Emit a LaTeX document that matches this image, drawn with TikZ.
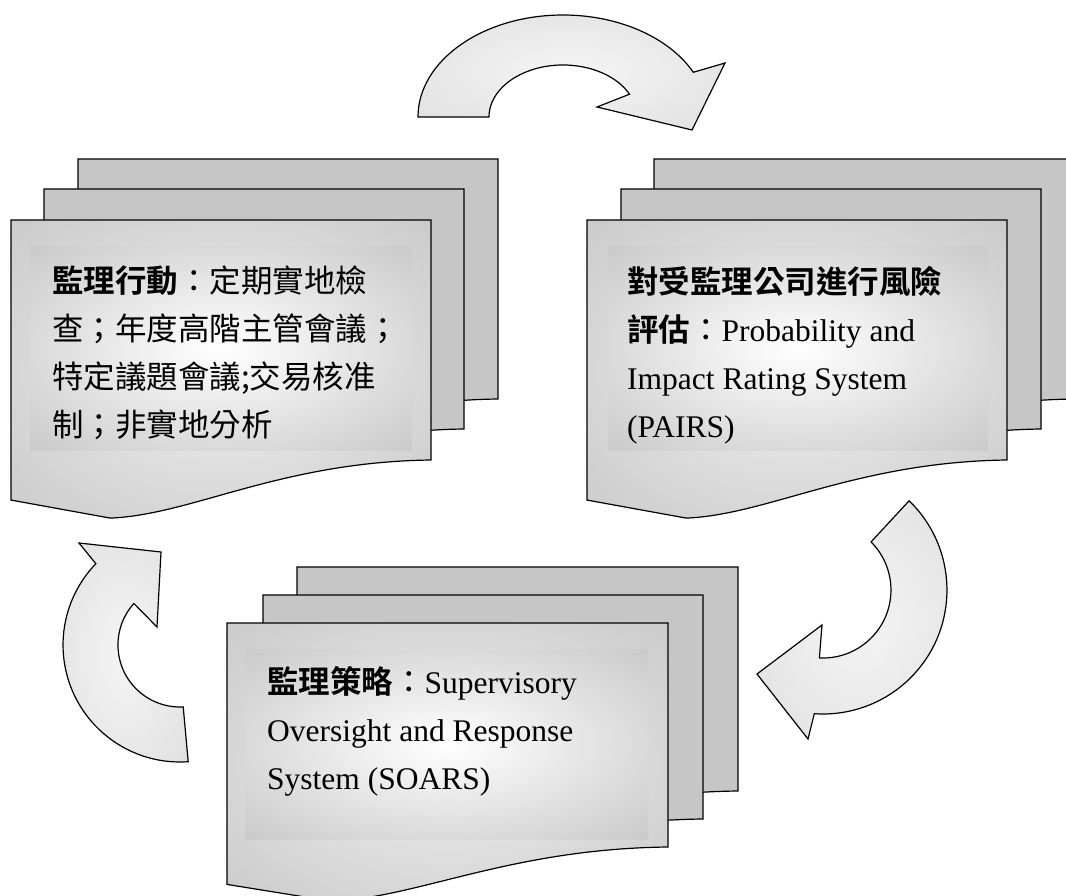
\documentclass[tikz,border=0pt]{standalone}
\usepackage{fontspec}
\usepackage{tikz}
\usepackage{xcolor}
\setmainfont{Liberation Serif}
\newfontfamily\cjk{Noto Sans CJK TC}[BoldFont={Noto Sans CJK TC Bold}]

\definecolor{sheetgray}{RGB}{198,198,198}
\pgfdeclareradialshading{panelglow}{\pgfpoint{0bp}{0bp}}{color(0bp)=(white); color(38bp)=(sheetgray); color(50bp)=(sheetgray)}
\pgfdeclareradialshading{sheetglow}{\pgfpoint{0bp}{0bp}}{color(0bp)=(gray!12); color(40bp)=(sheetgray); color(50bp)=(sheetgray)}
\pgfdeclareradialshading{arrowglow}{\pgfpoint{0bp}{0bp}}{color(0bp)=(gray!8); color(30bp)=(gray!22); color(50bp)=(sheetgray)}

% one paper of a stack: style, x, y, width, height of right edge
\newcommand{\docsheet}[5]{%
  \path[#1] (#2,#3) -- ({#2+#4},#3) -- ({#2+#4},{#3+#5})
    .. controls ({#2+0.64*#4},{#3+1.008*#5}) and ({#2+0.43*#4},{#3+1.229*#5}) .. ({#2+0.236*#4},{#3+1.242*#5})
    -- (#2,{#3+1.167*#5}) -- cycle;}

\tikzset{
  back sheet/.style={draw, line width=1.2pt, fill=sheetgray},
  front sheet/.style={draw, line width=1.2pt, shade, shading=sheetglow},
  panel/.style={shade, shading=panelglow, inner sep=0pt},
  ring arrow/.style={draw, line width=1.2pt, shade, shading=arrowglow, line join=miter},
  txt/.style={anchor=north west, inner sep=0pt, align=left, font=\fontsize{31.5}{48}\selectfont}
}

\begin{document}
\begin{tikzpicture}[x=1pt,y=-1pt]
  \useasboundingbox (0,0) rectangle (1066,896);

  % actions (left)
  \docsheet{back sheet}{78}{159}{420}{240}
  \docsheet{back sheet}{44}{189}{420}{240}
  \docsheet{front sheet}{11}{220}{420}{240}
  \node[panel, minimum width=382pt, minimum height=203pt] (actpanel) at (221,348.5) {};
  \node[txt] (acttext) at (52,266) {{\cjk\bfseries 監理行動}{\cjk ：定期實地檢}\\
    {\cjk 查；年度高階主管會議；}\\
    {\cjk 特定議題會議;交易核准}\\
    {\cjk 制；非實地分析}};

  % risk assessment (right)
  \docsheet{back sheet}{654}{159}{420}{240}
  \docsheet{back sheet}{621}{189}{420}{240}
  \docsheet{front sheet}{587}{220}{420}{240}
  \node[panel, minimum width=380pt, minimum height=203pt] (riskpanel) at (798,348.5) {};
  \node[txt] (risktext) at (627,266) {{\cjk\bfseries 對受監理公司進行風險}\\
    {\cjk\bfseries 評估}{\cjk ：}Probability and\\
    Impact Rating System\\
    (PAIRS)};

  % strategy (bottom)
  \docsheet{back sheet}{297}{567}{441}{224}
  \docsheet{back sheet}{263}{595}{440}{224}
  \docsheet{front sheet}{227}{623}{441}{224}
  \node[panel, minimum width=403pt, minimum height=190pt] (stratpanel) at (446.5,744) {};
  \node[txt] (strattext) at (267,666) {{\cjk\bfseries 監理策略}{\cjk ：}Supervisory\\
    Oversight and Response\\
    System (SOARS)};

  % circular arrows
  \path[ring arrow] (418,117) arc[start angle=180, end angle=334, x radius=145, y radius=102]
    -- (725,63) -- (692,130) -- (597,107) -- (629.5,94.2)
    arc[start angle=334, end angle=180, x radius=74, y radius=52] -- cycle;
  \path[ring arrow] (909.1,500.8) arc[start angle=-46, end angle=94, radius=124]
    -- (808,739) -- (757,674) -- (822,625) -- (819.4,657.9)
    arc[start angle=93, end angle=-45, radius=68] -- cycle;
  \path[ring arrow] (188.2,761.7) arc[start angle=86, end angle=224, radius=117]
    -- (79,543) -- (161,552) -- (157,627) -- (133.9,603.5)
    arc[start angle=222, end angle=87, radius=62] -- cycle;
\end{tikzpicture}
\end{document}
